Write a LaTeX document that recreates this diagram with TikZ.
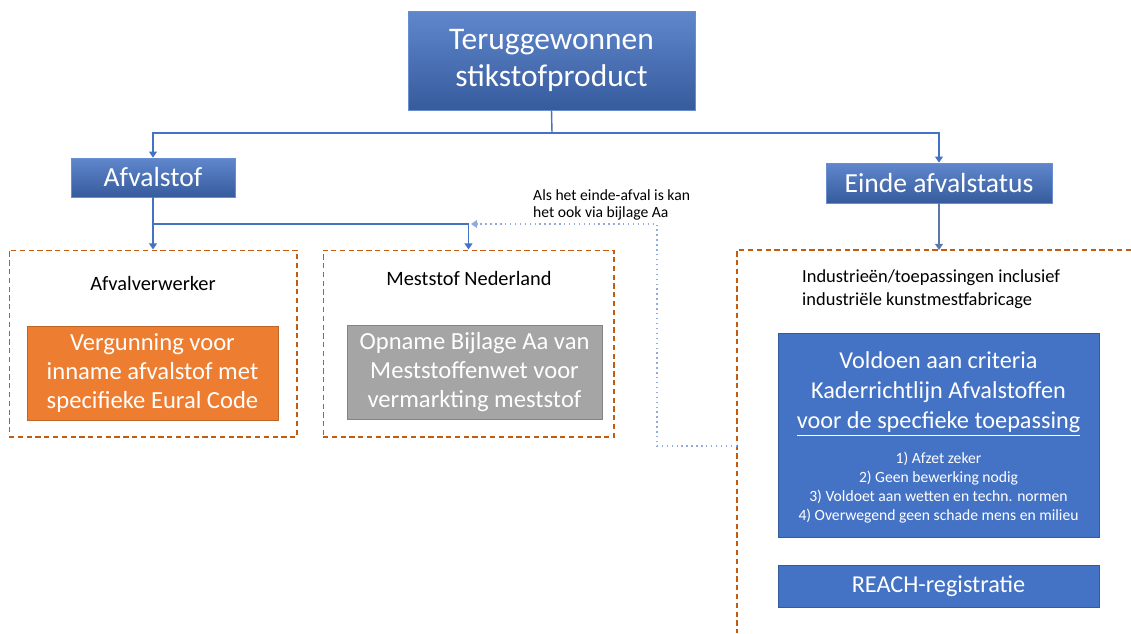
\documentclass[tikz,border=0pt]{standalone}
\usepackage{fontspec}
\setmainfont{Carlito}
\usetikzlibrary{arrows.meta}

\definecolor{kopblauw}{HTML}{4472C4}
\definecolor{randblauw}{HTML}{2F528F}
\definecolor{oranje}{HTML}{ED7D31}
\definecolor{grijs}{HTML}{A5A5A5}
\definecolor{streep}{HTML}{C55A11}
\definecolor{stip}{HTML}{8FAADC}

\begin{document}
\begin{tikzpicture}[x=0.02cm, y=-0.02cm,
	kop/.style={draw=kopblauw!80, top color=kopblauw!85!white, bottom color=kopblauw!80!black, text=white, align=center, inner sep=0pt},
	bak/.style={draw=streep, densely dashed, line width=0.6pt, minimum width=#1, minimum height=3.74cm, inner sep=0pt},
	blok/.style={draw=#1!80!black, fill=#1, text=white, align=center, inner sep=0pt, line width=0.5pt},
	lijn/.style={draw=kopblauw, line width=0.8pt, -{Triangle[width=4.5pt,length=3.5pt]}},
	lijnkaal/.style={draw=kopblauw, line width=0.8pt}]

\useasboundingbox (0,0) rectangle (1131,633);

% bovenste niveau
\node[kop, minimum width=5.74cm, minimum height=1.98cm, font=\fontsize{17.9}{21}\selectfont] (top) at (551.5,60.5) {Teruggewonnen\\stikstofproduct};
\node[kop, minimum width=3.28cm, minimum height=0.78cm, font=\fontsize{15.7}{18}\selectfont] (afval) at (153,177.5) {Afvalstof};
\node[kop, minimum width=4.52cm, minimum height=0.8cm, font=\fontsize{15.7}{18}\selectfont] (einde) at (939,183) {Einde afvalstatus};

\coordinate (split) at (552,133);
\coordinate (join) at (153,224);
\draw[lijnkaal] (top.south) -- (split);
\draw[lijn] (split) -| (afval.north);
\draw[lijn] (split) -| (einde.north);

% containers
\node[bak=5.76cm] (cont1) at (153,343.5) {};
\node[bak=5.82cm] (cont2) at (468.5,343.5) {};
\draw[draw=streep, densely dashed, line width=0.6pt] (1131,250) -- (737,250) -- (737,633);
\coordinate (cont3) at (939,250);

\draw[lijn] (afval.south) -- (cont1.north);
\draw[lijn] (join) -| (cont2.north);
\draw[lijn, draw=kopblauw!60!gray] (einde.south) -- (cont3);

% stippellijn via bijlage Aa
\coordinate (kruis) at (471,224);
\coordinate (terug) at (737,446);
\draw[stip, dotted, line width=0.8pt, -{Triangle[width=4.5pt,length=3.5pt]}] (terug) -- (657,446) -- (657,224) -- (kruis);
\node[anchor=west, align=left, font=\fontsize{8.9}{10}\selectfont] (noot) at (527,205) {Als het einde-afval is kan\\het ook via bijlage Aa};

% inhoud containers
\node[font=\fontsize{11.6}{14}\selectfont] (verwerker) at (153,283) {Afvalverwerker};
\node[blok=oranje, minimum width=5.02cm, minimum height=1.88cm, font=\fontsize{14}{16.5}\selectfont] (verg) at (152.5,373) {Vergunning voor\\inname afvalstof met\\specifieke Eural Code};

\node[font=\fontsize{11.6}{14}\selectfont] (mest) at (469,278) {Meststof Nederland};
\node[blok=grijs, minimum width=5.10cm, minimum height=1.88cm, font=\fontsize{14}{16.5}\selectfont] (opname) at (474.5,372) {Opname Bijlage Aa van\\Meststoffenwet voor\\vermarkting meststof};

\node[anchor=west, align=left, font=\fontsize{10.5}{13}\selectfont] (industrie) at (796,289) {Industrieën/toepassingen inclusief\\industriële kunstmestfabricage};

\node[blok=kopblauw, minimum width=6.42cm, minimum height=4.08cm] (crit) at (938.5,435) {};
\node[text=white, align=center, font=\fontsize{13.8}{17}\selectfont] (crittitel) at (938.5,394) {Voldoen aan criteria\\Kaderrichtlijn Afvalstoffen\\\underline{voor de specfieke toepassing}};
\node[text=white, align=center, font=\fontsize{8.9}{10.8}\selectfont] (critlijst) at (938.5,488) {1) Afzet zeker\\2) Geen bewerking nodig\\3) Voldoet aan wetten en techn. normen\\4) Overwegend geen schade mens en milieu};

\node[blok=kopblauw, minimum width=6.42cm, minimum height=0.84cm, font=\fontsize{13.8}{16}\selectfont] (reach) at (938.5,586) {REACH-registratie};

\end{tikzpicture}
\end{document}
